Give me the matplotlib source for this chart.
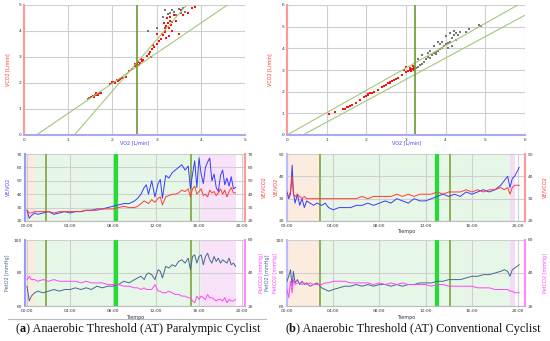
import matplotlib
matplotlib.use("Agg")
import matplotlib.pyplot as plt
import numpy as np

W, H = 550, 341

# ---------------- data ----------------
# scatter (a): VO2 vs VCO2
vo2_a_red = [1.52, 1.56, 1.58, 1.6, 1.62, 1.63, 1.66, 1.68, 1.7, 1.74,
             1.95, 1.98, 2.0, 2.02, 2.05, 2.06, 2.1, 2.12, 2.14, 2.18, 2.22, 2.25, 2.3,
             2.38, 2.45, 2.5, 2.52, 2.55, 2.56, 2.58, 2.6, 2.62, 2.64, 2.66, 2.7,
             2.78, 2.82, 2.85, 2.88, 2.9, 2.92, 2.95, 3.0,
             3.05, 3.1, 3.12, 3.15, 3.16, 3.18, 3.2, 3.2, 3.22, 3.22, 3.24, 3.25, 3.27,
             3.28, 3.3, 3.3, 3.32, 3.35,
             3.4, 3.45, 3.5, 3.55, 3.6, 3.7, 3.8, 3.87, 3.0, 3.35]
vco2_a_red = [1.45, 1.5, 1.48, 1.52, 1.6, 1.55, 1.58, 1.55, 1.6, 1.62,
              1.95, 2.0, 2.05, 2.02, 2.0, 2.05, 2.1, 2.08, 2.12, 2.15, 2.18, 2.2, 2.25,
              2.45, 2.55, 2.65, 2.75, 2.72, 2.68, 2.8, 2.7, 2.78, 2.92, 2.85, 2.9,
              3.05, 3.1, 3.2, 3.0, 3.3, 3.45, 3.4, 3.5,
              3.6, 3.7, 3.9, 3.85, 4.3, 3.95, 4.0, 4.1, 4.2, 3.75, 4.5, 4.3, 3.8,
              4.1, 4.4, 4.55, 4.25, 4.35,
              4.6, 4.4, 3.9, 4.8, 4.6, 4.7, 4.9, 4.92, 3.9, 4.0]
vo2_a_gray = [1.45, 1.48, 2.8, 3.0, 3.15, 3.2, 3.25, 3.3, 3.35, 3.4, 3.45, 3.5, 3.55, 3.6, 3.65]
vco2_a_gray = [1.4, 1.42, 4.0, 4.1, 4.55, 4.8, 4.65, 4.7, 4.8, 4.75, 4.6, 4.85, 4.7, 4.9, 4.75]

# scatter (b)
vo2_b_red = [1.05, 1.2, 1.4, 1.45, 1.5, 1.55, 1.6, 1.65, 1.75, 1.85, 1.95, 2.0, 2.05, 2.05,
             2.1, 2.15, 2.2, 2.3, 2.4, 2.45, 2.5, 2.55, 2.6, 2.6, 2.65, 2.7, 2.75, 2.8,
             2.9, 2.95, 3.0, 3.0, 3.05, 3.1, 3.1, 3.12, 3.15, 3.18, 3.2, 3.2]
vco2_b_red = [0.98, 1.05, 1.2, 1.22, 1.28, 1.3, 1.35, 1.4, 1.5, 1.6, 1.75, 1.8, 1.9, 1.85,
              1.92, 1.95, 2.0, 2.1, 2.2, 2.25, 2.3, 2.4, 2.45, 2.4, 2.5, 2.55, 2.6, 2.65,
              2.75, 3.0, 2.9, 3.15, 2.95, 3.0, 3.1, 2.95, 3.05, 3.2, 3.1, 3.0]
vo2_b_gray = [3.25, 3.3, 3.3, 3.35, 3.4, 3.4, 3.45, 3.5, 3.55, 3.55, 3.6, 3.6, 3.65, 3.7, 3.7,
              3.75, 3.75, 3.8, 3.8, 3.85, 3.85, 3.9, 3.9, 3.95, 4.0, 4.0, 4.05, 4.05, 4.1,
              4.1, 4.15, 4.15, 4.2, 4.2, 4.25, 4.25, 4.3, 4.35, 4.5, 4.6, 4.85, 4.9]
vco2_b_gray = [3.1, 3.15, 3.5, 3.25, 3.3, 3.7, 3.35, 3.5, 3.6, 3.8, 3.55, 3.9, 3.7, 3.8, 4.1,
               3.85, 3.75, 3.9, 4.3, 3.95, 4.2, 4.0, 4.3, 4.1, 4.2, 4.55, 4.25, 4.0, 4.3,
               4.7, 4.5, 4.1, 4.6, 4.8, 4.7, 4.4, 4.6, 4.75, 4.75, 4.9, 5.1, 5.05]

# time series (a), minutes
t_a = [0, 0.2, 0.4, 0.7, 1.0, 1.5, 2.0, 2.5, 3.0, 3.5, 4.0, 4.5, 5.0, 5.5, 6.0, 6.5,
       7.0, 7.5, 8.0, 8.5, 9.0, 9.5, 10.0, 10.3, 10.6, 10.9, 11.1, 11.3, 11.6, 11.9,
       12.2, 12.4, 12.6, 12.9, 13.2, 13.5, 13.8, 14.1, 14.4, 14.7, 15.0, 15.2, 15.4,
       15.6, 15.8, 16.0, 16.2, 16.4, 16.6, 16.8, 17.0, 17.2, 17.4, 17.6, 17.8, 18.0,
       18.2, 18.4, 18.6, 18.8, 19.0, 19.2, 19.4]
ve_vo2_a = [28, 22, 24, 26, 25, 26, 27, 25, 26, 27, 26, 27, 27, 28, 28, 29, 29, 30, 31,
            32, 33, 33, 35, 37, 40, 45, 47, 40, 50, 38, 48, 51, 37, 54, 52, 56, 58, 60,
            62, 58, 61, 44, 55, 65, 45, 67, 55, 48, 60, 64, 67, 50, 55, 45, 42, 54, 58,
            47, 52, 46, 53, 44, 45]
ve_vco2_a = [28, 26, 26, 27, 27, 27, 27, 26, 27, 27, 27, 27, 27, 28, 28, 28, 29, 29, 29,
             30, 31, 30, 30, 31, 33, 35, 34, 33, 36, 34, 37, 38, 32, 38, 39, 40, 40, 41,
             43, 42, 44, 38, 44, 46, 40, 42, 44, 39, 40, 38, 43, 41, 42, 39, 41, 44, 40,
             43, 38, 42, 45, 41, 41]
peto2_a = [72, 63, 66, 68, 69, 68, 69, 70, 69, 70, 70, 71, 70, 71, 70, 72, 71, 72, 72,
           73, 75, 74, 76, 77, 78, 76, 79, 80, 79, 76, 82, 81, 77, 84, 83, 85, 84, 87,
           88, 86, 89, 82, 90, 91, 86, 90, 91, 85, 90, 92, 88, 86, 90, 87, 89, 86, 88,
           87, 86, 89, 85, 86, 84]
petco2_a = [36, 38, 36, 36, 35, 36, 35, 36, 35, 35, 35, 35, 34, 35, 34, 34, 34, 33, 33,
            33, 32, 32, 31, 31, 30, 31, 30, 30, 30, 33, 29, 29, 28, 28, 29, 28, 27, 27,
            26, 26, 25, 25, 23, 22, 26, 24, 26, 25, 24, 27, 25, 25, 24, 23, 24, 24, 23,
            25, 22, 24, 23, 23, 24]

# time series (b)
t_b = [0, 0.15, 0.3, 0.45, 0.55, 0.7, 0.9, 1.1, 1.3, 1.5, 1.7, 2.0, 2.3, 2.6, 3.0, 3.3,
       3.6, 4.0, 4.5, 5.0, 5.5, 6.0, 6.5, 7.0, 7.5, 8.0, 8.5, 9.0, 9.5, 10.0, 10.5, 11.0,
       11.5, 12.0, 12.5, 13.0, 13.5, 14.0, 14.5, 15.0, 15.5, 16.0, 16.5, 17.0, 17.5,
       18.0, 18.5, 18.8, 19.1, 19.3, 19.5, 19.7, 19.9, 20.1]
ve_vo2_b = [33, 30, 32, 45, 33, 28, 32, 27, 30, 26, 29, 28, 27, 28, 27, 28, 26, 25, 26,
            26, 26, 27, 27, 28, 27, 28, 29, 28, 30, 29, 28, 30, 29, 29, 30, 31, 32, 31,
            32, 31, 33, 32, 33, 34, 33, 34, 36, 38, 40, 35, 39, 40, 42, 44]
ve_vco2_b = [32, 31, 33, 40, 32, 31, 32, 31, 30, 31, 30, 30, 30, 30, 30, 30, 30, 30, 30,
             30, 30, 30, 31, 30, 31, 31, 31, 31, 32, 31, 32, 31, 32, 32, 32, 33, 32, 33,
             33, 33, 34, 33, 34, 33, 34, 34, 35, 34, 35, 32, 35, 36, 36, 36]
peto2_b = [75, 78, 82, 72, 81, 74, 76, 73, 75, 73, 74, 72, 73, 74, 71, 70, 69, 70, 71,
           72, 72, 73, 72, 73, 72, 73, 73, 72, 73, 72, 73, 73, 74, 74, 74, 75, 75, 76,
           76, 76, 77, 78, 78, 79, 79, 80, 81, 82, 81, 78, 82, 83, 84, 85]
petco2_b = [30, 25, 35, 28, 36, 33, 34, 34, 33, 34, 33, 34, 33, 33, 33, 34, 34, 35, 35,
            35, 34, 34, 34, 34, 33, 34, 33, 34, 33, 34, 33, 33, 33, 33, 32, 33, 33, 32,
            32, 32, 32, 32, 31, 31, 31, 30, 30, 30, 30, 29, 29, 28, 28, 28]

# thresholds / phases (minutes) and reference lines
phases_a = [(-0.2, 0.74, '#fcebdf'), (0.74, 16.2, '#e7f7e7'), (16.2, 19.4, '#f8e2f8')]
vt1_a, at_a, vt2_a = 1.74, 8.25, 15.26
phases_b = [(0.0, 2.86, '#fcebdf'), (2.86, 19.3, '#e7f7e7'), (19.3, 19.75, '#f5dcf5')]
vt1_b, at_b, vt2_b = 2.86, 13.0, 14.1
at_vo2_a, at_vo2_b = 2.56, 3.22
lines_a = [((0.28, 4.6), (0, 5)), ((1.14, 3.68), (0, 5))]
lines_b = [((0, 5.82), (0, 6)), ((0.4, 6.0), (0, 5.53))]

fig = plt.figure(figsize=(W / 100, H / 100), dpi=100)


def box(x0, y0, x1, y1):
    return [x0 / W, 1 - y1 / H, (x1 - x0) / W, (y1 - y0) / H]


TICK = dict(labelsize=3.2, colors='#333333', length=0, pad=2)
GRID = '#cfcfcf'


def scatter_panel(rect, lim, rx, ry, gx, gy, at, lines):
    ax = fig.add_axes(box(*rect))
    ax.set_xlim(0, lim[0])
    ax.set_ylim(0, lim[1])
    ax.set_xticks(range(lim[0] + 1))
    ax.set_yticks(range(lim[1] + 1))
    ax.grid(True, color=GRID, lw=0.8)
    ax.set_axisbelow(True)
    for s in ('top', 'right'):
        ax.spines[s].set_visible(False)
    ax.spines['left'].set_color('#ff9999')
    ax.spines['left'].set_linewidth(1.5)
    ax.spines['bottom'].set_color('#aaaaee')
    ax.spines['bottom'].set_linewidth(1.5)
    ax.tick_params(**TICK)
    for xs, ys in lines:
        ax.plot(xs, ys, color='#a3c77a', lw=0.8)
    ax.axvline(at, color='#6a9a30', lw=1.2)
    ax.scatter(gx, gy, s=1.6, color='#777777', marker='s', lw=0)
    ax.scatter(rx, ry, s=3.0, color='#ff1010', marker='s', lw=0)
    return ax


def ts_panel(rect, xlim, ylim, yticks, ylim2, yticks2, t, y1, y2, c1, c2,
             sp1, sp2, phases, vt1, at, vt2):
    ax = fig.add_axes(box(*rect))
    ax.set_xlim(*xlim)
    ax.set_ylim(*ylim)
    for a, b, c in phases:
        ax.axvspan(a, b, color=c, lw=0, zorder=0)
    ax.set_xticks([0, 4, 8, 12, 16, 20])
    ax.set_xticklabels(['00:00', '04:00', '08:00', '12:00', '16:00', '20:00'])
    ax.set_yticks(yticks)
    ax.grid(True, color=GRID, lw=0.8, zorder=1)
    ax.axvline(vt1, color='#8aa848', lw=1.3, zorder=2)
    ax.axvline(vt2, color='#8aa848', lw=1.3, zorder=2)
    ax.axvline(at, color='#22dd33', lw=3.0, zorder=2)
    ax.plot(t, y1, color=c1, lw=0.7, zorder=4)
    ax.spines['top'].set_visible(False)
    ax.spines['right'].set_visible(False)
    ax.spines['bottom'].set_color('#bbbbbb')
    ax.spines['left'].set_color(sp1)
    ax.spines['left'].set_linewidth(1.5)
    ax.tick_params(**TICK)
    ax2 = ax.twinx()
    ax2.set_ylim(*ylim2)
    ax2.set_yticks(yticks2)
    ax2.plot(t, y2, color=c2, lw=0.7, zorder=3)
    for s in ('top', 'left', 'bottom'):
        ax2.spines[s].set_visible(False)
    ax2.spines['right'].set_color(sp2)
    ax2.spines['right'].set_linewidth(1.5)
    ax2.tick_params(**TICK)
    return ax


# scatter plots
scatter_panel((24, 5, 245, 135), (5, 5), vo2_a_red, vco2_a_red, vo2_a_gray, vco2_a_gray,
              at_vo2_a, lines_a)
scatter_panel((287, 5, 525, 135), (6, 6), vo2_b_red, vco2_b_red, vo2_b_gray, vco2_b_gray,
              at_vo2_b, lines_b)

BLUE, RED, SLATE, MAG = '#3a3aff', '#ff3b3b', '#46688f', '#ff44ff'

ts_panel((25, 154, 245, 221), (-0.19, 20.28), (20, 70), [20, 30, 40, 50, 60, 70],
         (20, 70), [20, 30, 40, 50, 60, 70], t_a, ve_vo2_a, ve_vco2_a, BLUE, RED,
         '#9999ff', '#ff9999', phases_a, vt1_a, at_a, vt2_a)
ts_panel((25, 240, 245, 306), (-0.19, 20.28), (60, 100), [60, 80, 100],
         (20, 60), [20, 40, 60], t_a, peto2_a, petco2_a, SLATE, MAG,
         '#9999ff', '#ff88ff', phases_a, vt1_a, at_a, vt2_a)
ts_panel((287, 154, 525, 221), (0, 20.6), (20, 50), [20, 30, 40, 50],
         (20, 50), [20, 30, 40, 50], t_b, ve_vo2_b, ve_vco2_b, BLUE, RED,
         '#bbbbff', '#ff9999', phases_b, vt1_b, at_b, vt2_b)
ts_panel((287, 240, 525, 306), (0, 20.6), (60, 100), [60, 80, 100],
         (20, 60), [20, 40, 60], t_b, peto2_b, petco2_b, SLATE, MAG,
         '#bbbbff', '#ff88ff', phases_b, vt1_b, at_b, vt2_b)


def ftext(x, y, s, color, rot=0, size=3.5):
    fig.text(x / W, 1 - y / H, s, color=color, rotation=rot, ha='center', va='center',
             fontsize=size)


# axis labels
ftext(8, 70, 'VCO2 [L/min]', '#ff3333', 90)
ftext(270, 70, 'VCO2 [L/min]', '#ff3333', 90)
ftext(135, 143, 'VO2 [L/min]', '#4444ff')
ftext(407, 143, 'VO2 [L/min]', '#4444ff')
ftext(8, 187, 'VE/VO2', '#4444ff', 90)
ftext(264, 187, 'VE/VCO2', '#ff3333', 90)
ftext(276, 187, 'VE/VO2', '#ff3333', 90)
ftext(545, 187, 'VE/VCO2', '#ff3333', 90)
ftext(406, 232, 'Tiempo', '#333333')
ftext(8, 273, 'PetO2 [mmHg]', SLATE, 90)
ftext(261, 273, 'PetCO2 [mmHg]', MAG, 90)
ftext(268, 273, 'PetO2 [mmHg]', SLATE, 90)
ftext(275, 273, 'PetCO2 [mmHg]', MAG, 90)
ftext(545, 273, 'PetCO2 [mmHg]', MAG, 90)
ftext(135, 317, 'Tiempo', '#333333')
ftext(406, 317, 'Tiempo', '#333333')

# separator under panel (a)
fig.add_artist(plt.Line2D([8 / W, 266 / W], [1 - 319 / H, 1 - 319 / H],
                          color='#bbbbbb', lw=0.8))


# captions with bold letter
def caption(xc, y, letter, rest):
    kw = dict(fontsize=8.8, family='Liberation Serif', va='center', color='#111111')
    fig.canvas.draw()
    r = fig.canvas.get_renderer()
    parts = [('(', 'normal'), (letter, 'bold'), (') ' + rest, 'normal')]
    texts = [fig.text(0, 1 - y / H, p, fontweight=w, **kw) for p, w in parts]
    widths = [tx.get_window_extent(r).width for tx in texts]
    x = xc - sum(widths) / 2
    for tx, wd in zip(texts, widths):
        tx.set_x(x / W)
        x += wd


caption(138, 329, 'a', 'Anaerobic Threshold (AT) Paralympic Cyclist')
caption(413, 329, 'b', 'Anaerobic Threshold (AT) Conventional Cyclist')

fig.savefig('out.png', dpi=100)
